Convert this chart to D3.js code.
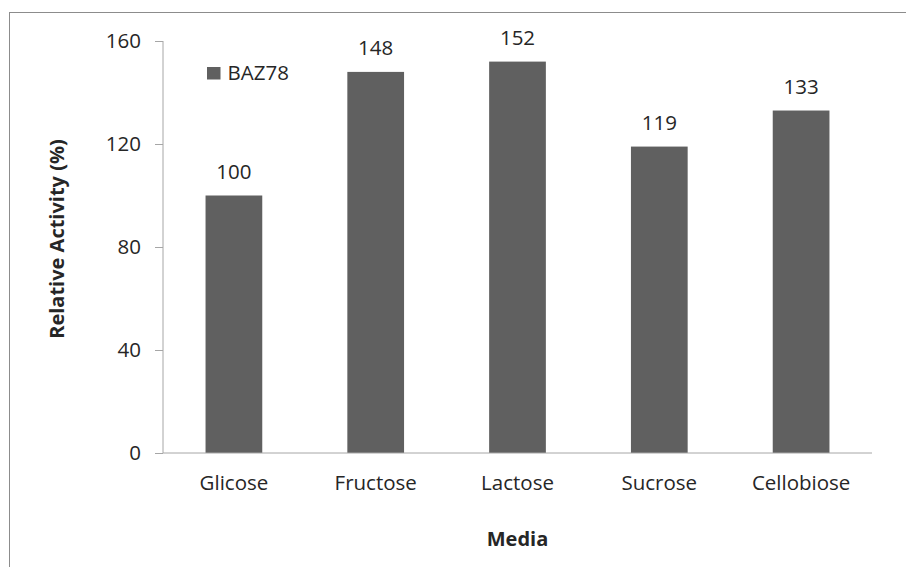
<!DOCTYPE html>
<html>
<head>
<meta charset="utf-8">
<script src="https://cdn.jsdelivr.net/npm/d3@7"></script>
<style>
  html, body { margin: 0; padding: 0; background: #fff; }
  svg { display: block; }
  text { font-family: "Open Sans", "Liberation Sans", sans-serif; fill: #262626; }
</style>
</head>
<body>
<svg id="chart" width="906" height="567"></svg>
<script>
// Relative enzyme activity of BAZ78 grown on different carbon sources
const categories = ["Glicose", "Fructose", "Lactose", "Sucrose", "Cellobiose"];
const activity = [100, 148, 152, 119, 133];
const yTicks = [0, 40, 80, 120, 160];
const seriesName = "BAZ78";

const svg = d3.select("#chart");
const W = 906, H = 567;
const plot = { left: 163, right: 872, top: 41, bottom: 453 };

// outer chart frame
svg.append("rect")
  .attr("x", 9.5).attr("y", 12.5)
  .attr("width", W + 20).attr("height", H + 20)
  .attr("fill", "#fff").attr("stroke", "#8c8c8c").attr("stroke-width", 1);

const x = d3.scaleBand()
  .domain(categories)
  .range([plot.left, plot.right])
  .paddingInner(0.6)
  .paddingOuter(0.3);

const y = d3.scaleLinear()
  .domain([0, 160])
  .range([plot.bottom, plot.top]);

// bars
svg.append("g").selectAll("rect")
  .data(categories)
  .join("rect")
  .attr("x", d => x(d))
  .attr("y", (d, i) => y(activity[i]))
  .attr("width", x.bandwidth())
  .attr("height", (d, i) => y(0) - y(activity[i]))
  .attr("fill", "#606060");

// value labels
svg.append("g").selectAll("text")
  .data(categories)
  .join("text")
  .attr("x", d => x(d) + x.bandwidth() / 2)
  .attr("y", (d, i) => y(activity[i]) - 17)
  .attr("text-anchor", "middle")
  .attr("font-size", 20.5)
  .text((d, i) => activity[i]);

// y axis
const yAxis = svg.append("g")
  .attr("transform", `translate(${plot.left},0)`)
  .call(d3.axisLeft(y).tickValues(yTicks).tickSize(8).tickPadding(14));
yAxis.select(".domain").attr("stroke", "#a6a6a6").attr("d", `M0,${plot.top}V${plot.bottom}`);
yAxis.selectAll(".tick line").attr("stroke", "#a6a6a6");
yAxis.selectAll(".tick text")
  .attr("font-size", 20.5)
  .attr("font-family", "'Open Sans', sans-serif")
  .attr("fill", "#262626");

// x axis
const xAxis = svg.append("g")
  .attr("transform", `translate(0,${plot.bottom})`)
  .call(d3.axisBottom(x).tickSize(0).tickPadding(22));
xAxis.select(".domain").attr("stroke", "#a6a6a6").attr("d", `M${plot.left},0H${plot.right}`);
xAxis.selectAll(".tick text")
  .attr("font-size", 20.5)
  .attr("font-family", "'Open Sans', sans-serif")
  .attr("fill", "#262626");

// axis titles
svg.append("text")
  .attr("x", (plot.left + plot.right) / 2)
  .attr("y", 546)
  .attr("text-anchor", "middle")
  .attr("font-size", 20)
  .attr("font-weight", "bold")
  .text("Media");

svg.append("text")
  .attr("transform", `translate(64,${(plot.top + plot.bottom) / 2 - 8}) rotate(-90)`)
  .attr("text-anchor", "middle")
  .attr("font-size", 20)
  .attr("font-weight", "bold")
  .text("Relative Activity (%)");

// legend
const legend = svg.append("g").attr("transform", "translate(207,67)");
legend.append("rect").attr("width", 13.5).attr("height", 12.5).attr("fill", "#606060");
legend.append("text")
  .attr("x", 20.5).attr("y", 13)
  .attr("font-size", 20.5)
  .text(seriesName);
</script>
</body>
</html>
